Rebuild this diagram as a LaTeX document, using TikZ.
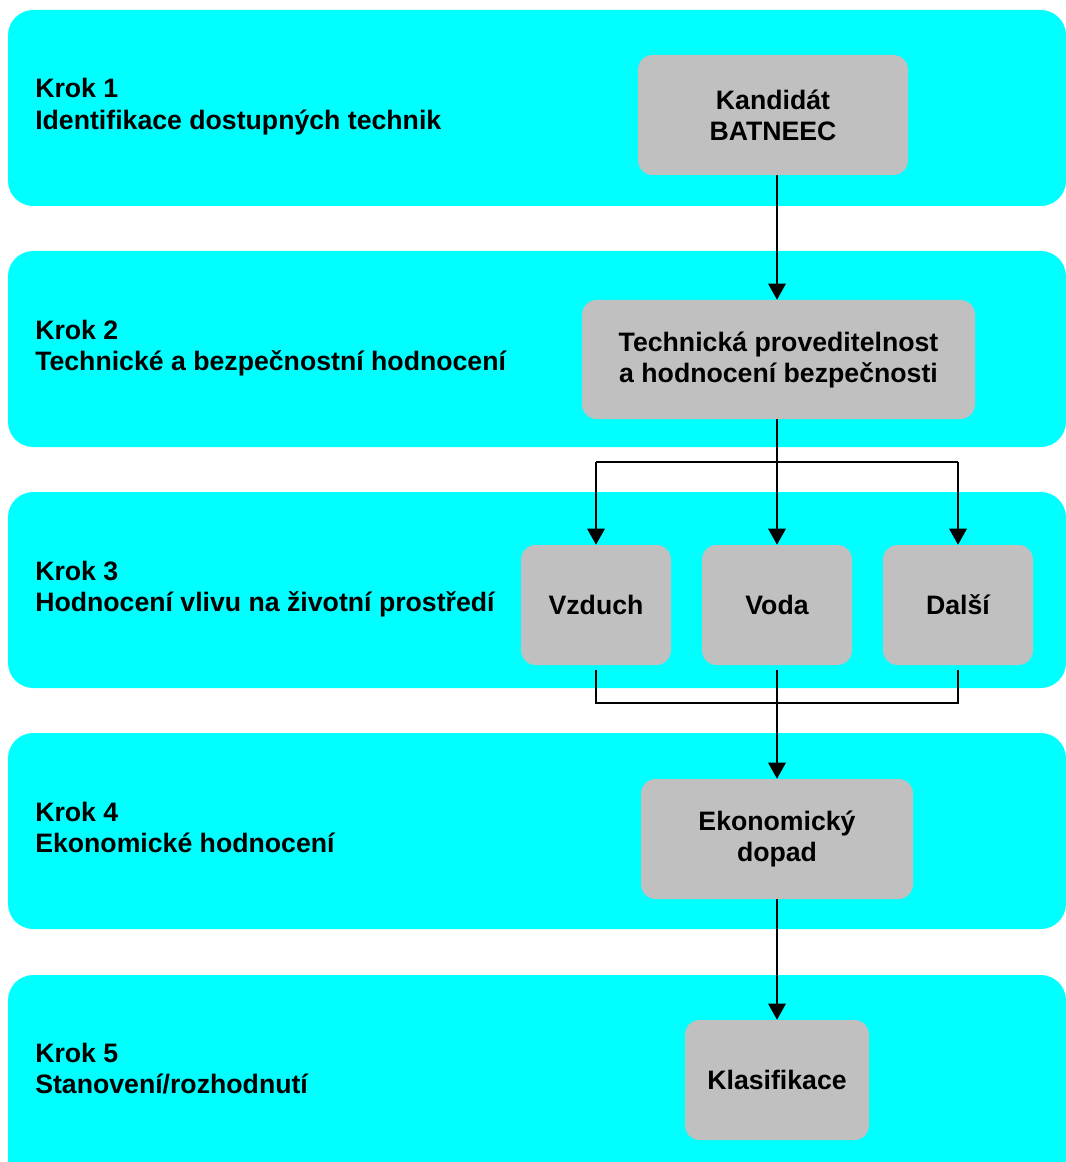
\documentclass[tikz,border=0pt]{standalone}
\usepackage{fontspec}
\setmainfont{Liberation Sans}
\usetikzlibrary{arrows.meta}
\definecolor{bandcyan}{HTML}{00FFFF}
\definecolor{boxgray}{HTML}{C0C0C0}
\begin{document}
\begin{tikzpicture}[x=0.75pt,y=-0.75pt,
  band/.style={fill=bandcyan,draw=none,rounded corners=19pt},
  gbox/.style={fill=boxgray,draw=none,rounded corners=11pt,align=center,
    font=\fontsize{20pt}{23.25pt}\selectfont\bfseries,inner sep=0pt},
  lbl/.style={anchor=base west,inner sep=0pt,font=\fontsize{20pt}{24pt}\selectfont\bfseries},
  arr/.style={line width=1.5pt,-{Triangle[width=13pt,length=12pt]}},
  ln/.style={line width=1.5pt}]
\useasboundingbox (0,0) rectangle (1065,1162);
% bands
\path[band] (8,10) rectangle (1066,206);
\path[band] (8,251) rectangle (1066,447);
\path[band] (8,492) rectangle (1066,688);
\path[band] (8,733) rectangle (1066,929);
\path[band] (8,975) rectangle (1066,1190);
% labels
\node[lbl] (s1a) at (35,98) {Krok 1};
\node[lbl] (s1b) at (35,130) {Identifikace dostupných technik};
\node[lbl] (s2a) at (35,339) {Krok 2};
\node[lbl] (s2b) at (35,370) {Technické a bezpečnostní hodnocení};
\node[lbl] (s3a) at (35,580) {Krok 3};
\node[lbl] (s3b) at (35,611) {Hodnocení vlivu na životní prostředí};
\node[lbl] (s4a) at (35,821) {Krok 4};
\node[lbl] (s4b) at (35,852) {Ekonomické hodnocení};
\node[lbl] (s5a) at (35,1062) {Krok 5};
\node[lbl] (s5b) at (35,1093) {Stanovení/rozhodnutí};
% boxes
\node[gbox,minimum width=202.5pt,minimum height=90pt] (kand) at (773,115) {Kandidát\\BATNEEC};
\node[gbox,minimum width=294.75pt,minimum height=89.25pt] (tech) at (778.5,359.5) {Technická proveditelnost\\a hodnocení bezpečnosti};
\node[gbox,minimum width=112.5pt,minimum height=90pt] (vzd) at (596,605) {Vzduch};
\node[gbox,minimum width=112.5pt,minimum height=90pt] (voda) at (777,605) {Voda};
\node[gbox,minimum width=112.5pt,minimum height=90pt] (dal) at (958,605) {Další};
\node[gbox,minimum width=204pt,minimum height=90pt] (eko) at (777,839) {Ekonomický\\dopad};
\node[gbox,minimum width=138pt,minimum height=90pt] (kla) at (777,1080) {Klasifikace};
% coordinates
\coordinate (splitL) at (596,462);
\coordinate (splitR) at (958,462);
\coordinate (joinL) at (596,703);
\coordinate (joinR) at (958,703);
\coordinate (joinM) at (777,703);
% connectors
\draw[arr] (kand.south -| voda) -- (tech.north -| voda);
\draw[arr] (tech.south -| voda) -- (voda.north);
\draw[ln] (splitL) -- (splitR);
\draw[arr] (splitL) -- (vzd.north);
\draw[arr] (splitR) -- (dal.north);
\draw[ln] ([yshift=-3.75pt]vzd.south) -- (joinL) -- (joinR) -- ([yshift=-3.75pt]dal.south);
\draw[ln] ([yshift=-3.75pt]voda.south) -- (joinM);
\draw[arr] (joinM) -- (eko.north);
\draw[arr] (eko.south) -- (kla.north);
\end{tikzpicture}
\end{document}
